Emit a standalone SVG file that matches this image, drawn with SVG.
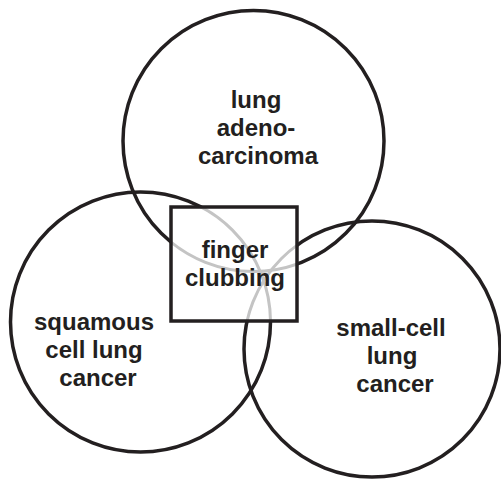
<svg xmlns="http://www.w3.org/2000/svg" width="501" height="479" viewBox="0 0 501 479">
<style>
.c{fill:none;stroke:#231f20;stroke-width:3.5}
.g{fill:none;stroke:#c4c4c4;stroke-width:3}
.t{font-family:"Liberation Sans",Arial,sans-serif;font-weight:bold;font-size:24px;fill:#231f20;text-anchor:middle}
</style>
<defs>
<clipPath id="rc"><rect x="171" y="207" width="126" height="114"/></clipPath>
</defs>
<rect width="501" height="479" fill="#fff"/>
<g id="adeno"><circle class="c" cx="253.5" cy="141" r="130.5"/>
<text class="t" x="256" y="108">lung</text><text class="t" x="256" y="136">adeno-</text><text class="t" x="258" y="164">carcinoma</text></g>
<g id="squamous"><circle class="c" cx="140.5" cy="322" r="130"/>
<text class="t" x="94" y="330">squamous</text><text class="t" x="94" y="358">cell lung</text><text class="t" x="98" y="386">cancer</text></g>
<g id="smallcell"><circle class="c" cx="372" cy="349" r="128"/>
<text class="t" x="391" y="336">small-cell</text><text class="t" x="392" y="364">lung</text><text class="t" x="395" y="392">cancer</text></g>
<g id="clubbing">
<rect x="171" y="207" width="126" height="114" fill="#fff"/>
<g clip-path="url(#rc)"><circle class="g" cx="253.5" cy="141" r="130.5"/><circle class="g" cx="140.5" cy="322" r="130"/><circle class="g" cx="372" cy="349" r="128"/></g>
<rect x="171" y="207" width="126" height="114" class="c"/>
<text class="t" x="235" y="258">finger</text><text class="t" x="235" y="286">clubbing</text></g>
</svg>
